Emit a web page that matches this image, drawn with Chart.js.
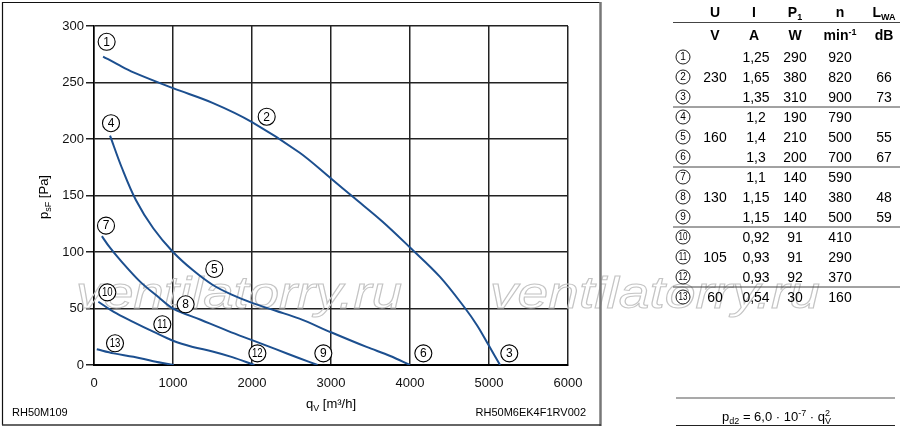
<!DOCTYPE html>
<html><head><meta charset="utf-8">
<script src="https://cdn.jsdelivr.net/npm/chart.js@4.4.1/dist/chart.umd.min.js"></script>
<style>html,body{margin:0;padding:0;background:#fff;}#wrap{position:relative;width:900px;height:429px;}</style>
</head><body><div id="wrap"><canvas id="c"></canvas></div>
<script>
// ---- data ----
const xTickStep = 1000, xMax = 6000;
const yTickStep = 50, yMax = 300;

const q230 = [115, 300, 500, 1000, 1500, 2000, 2600, 3000, 3300, 3650, 4000, 4380, 4700, 4850, 5000, 5140];
const p230 = [273, 266, 259, 245, 232, 215, 188, 165, 147.5, 127, 104, 78, 50, 35, 17, 0];

const q160 = [203, 350, 530, 750, 1000, 1250, 1500, 1750, 2000, 2300, 2600, 3000, 3450, 3750, 4000];
const p160 = [203, 175, 146, 121, 100, 84, 71, 62, 55, 48, 41, 29, 16, 8, 0];

const q130 = [100, 200, 330, 580, 800, 1000, 1350, 1700, 2000, 2300, 2600, 2830];
const p130 = [114, 104, 93, 74, 61, 50, 40, 30, 22, 14, 6, 0];

const q105 = [55, 250, 500, 750, 1000, 1250, 1500, 1750, 2030];
const p105 = [56, 47, 38, 29.5, 21.5, 16, 12, 7, 0];

const q60 = [35, 250, 500, 750, 1010];
const p60 = [14, 10.3, 7.3, 3.4, 0];

const curveLabels = ['1','2','3','4','5','6','7','8','9','10','11','12','13'];
const labelQ = [160, 2186, 5257, 215, 1523, 4169, 152, 1160, 2903, 169, 865, 2068, 266];
const labelP = [286, 219.7, 10.3, 214, 85, 10.3, 123.3, 53.7, 10.3, 64.3, 36, 10.3, 19.2];

const tableU = ['', '230', '', '', '160', '', '', '130', '', '', '105', '', '60'];
const tableI = ['1,25','1,65','1,35','1,2','1,4','1,3','1,1','1,15','1,15','0,92','0,93','0,93','0,54'];
const tableP = ['290','380','310','190','210','200','140','140','140','91','91','92','30'];
const tableN = ['920','820','900','790','500','700','590','380','500','410','290','370','160'];
const tableL = ['','66','73','','55','67','','48','59','','','',''];

const chartCodeLeft = 'RH50M109';
const chartCodeRight = 'RH50M6EK4F1RV002';
const watermark = 'ventilatorry.ru';

// ---- helpers ----
const FF = "'Liberation Sans', Arial, Helvetica, sans-serif";
const BLUE = '#1c4f8f';
function zip(a, b) { return a.map((v, i) => ({x: v, y: b[i]})); }
function ds(q, p) {
  return { data: zip(q, p), borderColor: BLUE, borderWidth: 2, pointRadius: 0, fill: false, tension: 0.35 };
}
function rich(ctx, parts, x, y, align) {
  let w = 0;
  parts.forEach(p => { ctx.font = (p.b ? 'bold ' : '') + p.s + 'px ' + FF; p.w = ctx.measureText(p.t).width; if (!p.noAdv) w += p.w; });
  let cx = align === 'center' ? x - w / 2 : (align === 'right' ? x - w : x);
  ctx.textAlign = 'left'; ctx.textBaseline = 'alphabetic';
  parts.forEach(p => {
    ctx.font = (p.b ? 'bold ' : '') + p.s + 'px ' + FF;
    ctx.fillText(p.t, cx, y + (p.dy || 0));
    if (!p.noAdv) cx += p.w;
  });
}
function circled(ctx, txt, cx, cy, r, fs, lw) {
  ctx.save();
  ctx.beginPath(); ctx.arc(cx, cy, r, 0, Math.PI * 2);
  ctx.fillStyle = '#fff'; ctx.fill();
  ctx.lineWidth = lw; ctx.strokeStyle = '#000'; ctx.stroke();
  ctx.fillStyle = '#000'; ctx.textAlign = 'center'; ctx.textBaseline = 'middle';
  ctx.font = fs + 'px ' + FF;
  if (txt.length > 1) {
    ctx.translate(cx, cy + 0.5); ctx.scale(0.8, 1); ctx.fillText(txt, 0, 0);
  } else ctx.fillText(txt, cx, cy + 0.5);
  ctx.restore();
}

const overlay = {
  id: 'overlay',
  beforeDatasetsDraw(chart) {
    const ctx = chart.ctx;
    ctx.save();
    ctx.font = 'italic 44px ' + FF;
    ctx.strokeStyle = '#c4c4c4'; ctx.lineWidth = 1;
    const w = ctx.measureText(watermark).width;
    [[76, 402], [490, 820]].forEach(([a, b]) => {
      ctx.save(); ctx.translate(a, 308); ctx.scale((b - a) / w, 1);
      ctx.textAlign = 'left'; ctx.textBaseline = 'alphabetic';
      ctx.strokeText(watermark, 0, 0); ctx.restore();
    });
    ctx.restore();
  },
  afterDatasetsDraw(chart) {
    const ctx = chart.ctx, xs = chart.scales.x, ys = chart.scales.y;
    curveLabels.forEach((t, i) => {
      circled(ctx, t, xs.getPixelForValue(labelQ[i]), ys.getPixelForValue(labelP[i]), 8.5, 12, 1.1);
    });
  },
  afterDraw(chart) {
    const ctx = chart.ctx;
    ctx.save();
    ctx.fillStyle = '#000';
    // outer frame
    ctx.strokeStyle = '#111'; ctx.lineWidth = 1.2;
    ctx.beginPath(); ctx.moveTo(2.5, 425); ctx.lineTo(2.5, 2.5); ctx.lineTo(600, 2.5); ctx.stroke();
    ctx.strokeStyle = '#777'; ctx.lineWidth = 2.5;
    ctx.beginPath(); ctx.moveTo(600.5, 2); ctx.lineTo(600.5, 426); ctx.stroke();
    ctx.lineWidth = 1.5; ctx.strokeStyle = '#333';
    ctx.beginPath(); ctx.moveTo(2, 425); ctx.lineTo(601, 425); ctx.stroke();

    // axis titles
    rich(ctx, [{t:'q', s:13}, {t:'V', s:9, dy:3}, {t:' [m³/h]', s:13}], 331, 408, 'center');
    ctx.save(); ctx.translate(48, 197); ctx.rotate(-Math.PI / 2);
    rich(ctx, [{t:'p', s:13}, {t:'sF', s:9, dy:3}, {t:' [Pa]', s:13}], 0, 0, 'center');
    ctx.restore();

    // codes
    ctx.font = '11px ' + FF; ctx.textBaseline = 'alphabetic';
    ctx.textAlign = 'left'; ctx.fillText(chartCodeLeft, 12, 416);
    ctx.textAlign = 'right'; ctx.fillText(chartCodeRight, 586, 416);

    // table
    const cols = [715, 756, 795, 840, 884];
    ctx.strokeStyle = '#444'; ctx.lineWidth = 1;
    [22.5, 107, 167, 227, 287].forEach(y => { ctx.beginPath(); ctx.moveTo(673, y); ctx.lineTo(900, y); ctx.stroke(); });
    rich(ctx, [{t:'U', s:14, b:true}], cols[0], 17, 'center');
    rich(ctx, [{t:'I', s:14, b:true}], 754, 17, 'center');
    rich(ctx, [{t:'P', s:14, b:true}, {t:'1', s:9, b:true, dy:3}], cols[2], 17, 'center');
    rich(ctx, [{t:'n', s:14, b:true}], cols[3], 17, 'center');
    rich(ctx, [{t:'L', s:14, b:true}, {t:'WA', s:9, b:true, dy:3}], cols[4], 17, 'center');
    rich(ctx, [{t:'V', s:14, b:true}], cols[0], 40, 'center');
    rich(ctx, [{t:'A', s:14, b:true}], 754, 40, 'center');
    rich(ctx, [{t:'W', s:14, b:true}], cols[2], 40, 'center');
    rich(ctx, [{t:'min', s:14, b:true}, {t:'-1', s:9, b:true, dy:-5}], cols[3], 40, 'center');
    rich(ctx, [{t:'dB', s:14, b:true}], cols[4], 40, 'center');
    const rowsArr = [tableU, tableI, tableP, tableN, tableL];
    for (let i = 0; i < 13; i++) {
      const cy = 57 + 20 * i;
      circled(ctx, curveLabels[i], 683, cy, 7, 10, 0.9);
      ctx.fillStyle = '#000'; ctx.font = '14px ' + FF; ctx.textAlign = 'center'; ctx.textBaseline = 'alphabetic';
      rowsArr.forEach((arr, k) => { if (arr[i]) ctx.fillText(arr[i], cols[k], cy + 5); });
    }

    // formula
    ctx.strokeStyle = '#555'; ctx.lineWidth = 1.2;
    ctx.beginPath(); ctx.moveTo(676, 398); ctx.lineTo(895, 398); ctx.stroke();
    ctx.strokeStyle = '#222';
    ctx.beginPath(); ctx.moveTo(676, 425.5); ctx.lineTo(895, 425.5); ctx.stroke();
    rich(ctx, [{t:'p', s:13}, {t:'d2', s:9, dy:3}, {t:' = 6,0 · 10', s:13}, {t:'-7', s:9, dy:-5},
               {t:' · q', s:13}, {t:'V', s:9, dy:3, noAdv:true}, {t:'2', s:9, dy:-5}], 776, 421, 'center');
    ctx.restore();
  }
};

new Chart(document.getElementById('c'), {
  type: 'line',
  data: { datasets: [ds(q230, p230), ds(q160, p160), ds(q130, p130), ds(q105, p105), ds(q60, p60)] },
  options: {
    responsive: true, maintainAspectRatio: false, animation: false,
    layout: { padding: { left: 0, top: 26, right: 332, bottom: 0 } },
    plugins: { legend: { display: false }, tooltip: { enabled: false } },
    scales: {
      x: {
        type: 'linear', min: 0, max: xMax,
        ticks: { stepSize: xTickStep, color: '#111', font: { size: 13, family: FF }, padding: 11, maxRotation: 0,
                 callback: v => String(v) },
        grid: { color: '#222', lineWidth: 1.5, drawTicks: false },
        border: { color: '#000', width: 2 },
        afterFit(s) { s.height = 64; }
      },
      y: {
        min: 0, max: yMax,
        ticks: { stepSize: yTickStep, color: '#111', font: { size: 13, family: FF }, padding: 2,
                 callback: v => String(v) },
        grid: { color: '#222', lineWidth: 1.5, tickLength: 8 },
        border: { color: '#000', width: 1.5 },
        afterFit(s) { s.width = 94; }
      }
    }
  },
  plugins: [overlay]
});
</script></body></html>
